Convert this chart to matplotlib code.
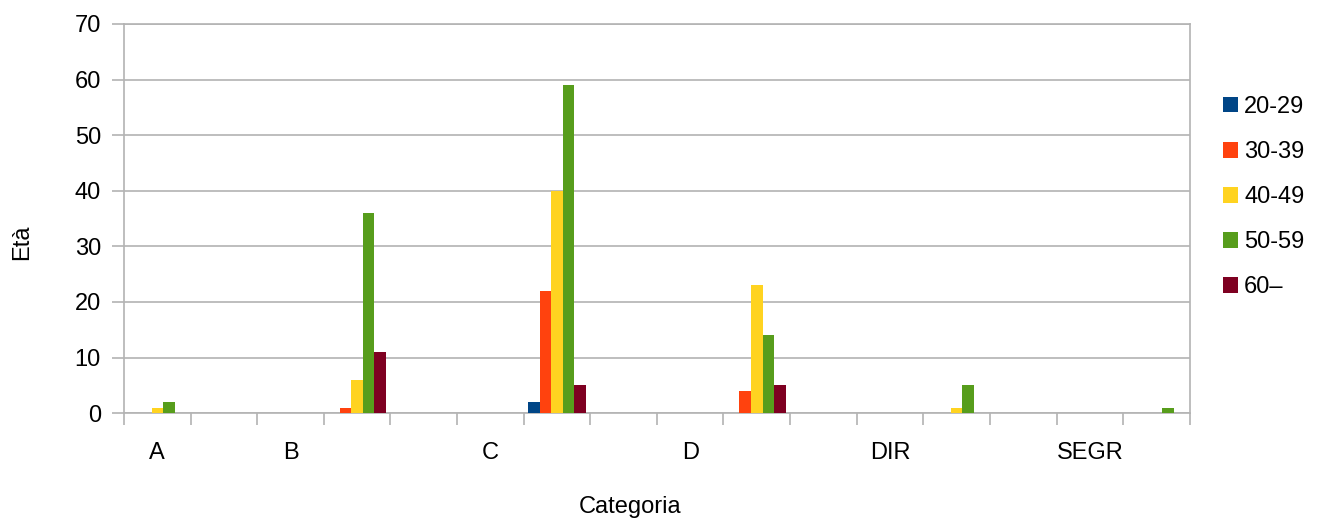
import matplotlib
matplotlib.use("Agg")
import matplotlib.pyplot as plt
import numpy as np

# 16 category slots; LibreOffice hid the labels that would overlap
categories = ["A", "", "B", "", "", "C", "", "", "D", "", "", "DIR", "", "", "SEGR", ""]
series = ["20-29", "30-39", "40-49", "50-59", "60\u2013"]
v20 = [0, 0, 0, 0, 0, 0, 2, 0, 0, 0, 0, 0, 0, 0, 0, 0]
v30 = [0, 0, 0, 1, 0, 0, 22, 0, 0, 4, 0, 0, 0, 0, 0, 0]
v40 = [1, 0, 0, 6, 0, 0, 40, 0, 0, 23, 0, 0, 1, 0, 0, 0]
v50 = [2, 0, 0, 36, 0, 0, 59, 0, 0, 14, 0, 0, 5, 0, 0, 1]
v60 = [0, 0, 0, 11, 0, 0, 5, 0, 0, 5, 0, 0, 0, 0, 0, 0]
colors = ["#004586", "#ff420e", "#ffd320", "#579d1c", "#7e0021"]

plt.rcParams["font.family"] = ["Liberation Sans", "DejaVu Sans"]
fs = 17

fig = plt.figure(figsize=(13.19, 5.21), dpi=100)
ax = fig.add_axes([0.094, 0.207, 0.808, 0.747])

x = np.arange(len(categories)) + 0.5
w = 0.173
for i, vals in enumerate([v20, v30, v40, v50, v60]):
    ax.bar(x + (i - 2) * w, vals, width=w, color=colors[i], label=series[i], zorder=3)

ax.set_xlim(0, len(categories))
ax.set_ylim(0, 70)
ax.set_yticks(range(0, 71, 10))
ax.yaxis.grid(True, color="#b3b3b3", linewidth=1.2, zorder=0)

ax.set_xticks(range(len(categories) + 1))
ax.set_xticklabels([])
ax.set_xticks(x, minor=True)
ax.set_xticklabels(categories, minor=True)
ax.tick_params(axis="x", which="major", length=8.6, color="#b3b3b3", width=1.2)
ax.tick_params(axis="x", which="minor", length=0, pad=21, labelsize=fs)
ax.tick_params(axis="y", length=8.6, color="#b3b3b3", width=1.2, labelsize=fs, pad=8)

for s in ax.spines.values():
    s.set_color("#b3b3b3")
    s.set_linewidth(1.2)

ax.set_ylabel("Età", fontsize=fs)
ax.yaxis.set_label_coords(-0.085, 0.44)
ax.set_xlabel("Categoria", fontsize=fs)
ax.xaxis.set_label_coords(0.475, -0.212)

ax.legend(loc="center left", bbox_to_anchor=(1.02, 0.555), frameon=False,
          fontsize=fs, handlelength=0.65, handleheight=0.65, handletextpad=0.25,
          labelspacing=0.98, borderpad=0)

fig.savefig("out.png", dpi=100)
